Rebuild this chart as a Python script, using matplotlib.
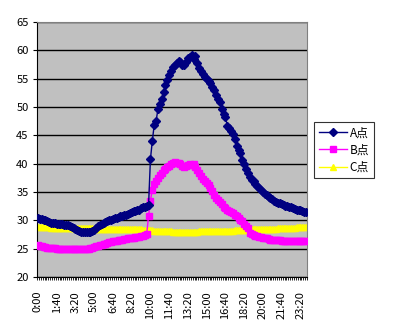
import matplotlib
matplotlib.use('Agg')
import matplotlib.pyplot as plt
import numpy as np

plt.rcParams['font.family'] = ['Noto Sans CJK JP', 'DejaVu Sans']

# 10-minute intervals, 0:00 - 23:50
times = ['%d:%02d' % (m // 60, m % 60) for m in range(0, 1440, 10)]

series_a = [
    30.4, 30.3, 30.2, 30.1, 30.0, 29.8, 29.7, 29.6, 29.5, 29.5,
    29.4, 29.4, 29.3, 29.3, 29.2, 29.2, 29.1, 29.0, 28.9, 28.7,
    28.5, 28.3, 28.1, 28.0, 27.9, 27.9, 27.9, 28.0, 28.0, 28.1,
    28.3, 28.6, 29.0, 29.2, 29.4, 29.5, 29.7, 29.8, 30.0, 30.1,
    30.3, 30.4, 30.5, 30.6, 30.7, 30.8, 30.9, 31.0, 31.2, 31.3,
    31.4, 31.6, 31.7, 31.8, 31.9, 32.1, 32.3, 32.4, 32.6, 32.7,
    40.8, 44.0, 46.8, 47.5, 49.6, 50.5, 51.5, 52.6, 53.8, 54.8,
    55.6, 56.3, 57.0, 57.4, 57.8, 58.1, 58.0, 57.5, 57.4, 58.0,
    58.6, 58.9, 59.2, 58.4, 59.0, 57.8, 56.8, 56.3, 55.9, 55.3,
    55.0, 54.6, 54.3, 53.5, 53.0, 52.2, 51.5, 50.8, 49.6, 48.8,
    48.2, 46.7, 46.3, 45.8, 45.2, 44.3, 43.2, 42.5, 41.8, 40.6,
    39.9, 39.0, 38.3, 37.7, 37.2, 36.9, 36.5, 36.1, 35.7, 35.4,
    35.0, 34.7, 34.4, 34.1, 33.9, 33.7, 33.5, 33.3, 33.1, 33.0,
    32.8, 32.7, 32.6, 32.5, 32.4, 32.3, 32.1, 32.0, 31.9, 31.8,
    31.8, 31.6, 31.5, 31.4,
]

series_b = [
    25.6, 25.5, 25.4, 25.3, 25.3, 25.2, 25.2, 25.2, 25.1, 25.1,
    25.0, 25.0, 25.0, 25.0, 24.9, 24.9, 24.9, 24.9, 24.9, 24.9,
    24.9, 24.9, 24.9, 24.9, 24.9, 24.9, 25.0, 25.0, 25.1, 25.2,
    25.3, 25.4, 25.5, 25.6, 25.7, 25.8, 25.9, 26.0, 26.1, 26.2,
    26.3, 26.3, 26.4, 26.5, 26.5, 26.6, 26.7, 26.7, 26.8, 26.8,
    26.9, 26.9, 27.0, 27.0, 27.1, 27.2, 27.3, 27.4, 27.6, 30.8,
    33.5, 35.4, 36.5, 37.0, 37.5, 38.0, 38.4, 38.8, 39.1, 39.4,
    39.6, 39.9, 40.1, 40.3, 40.2, 40.1, 40.0, 39.6, 39.4, 39.6,
    39.8, 39.9, 39.8, 39.9, 39.5, 38.8, 38.3, 37.8, 37.3, 36.9,
    36.6, 36.2, 35.7, 35.1, 34.5, 34.0, 33.6, 33.2, 32.8, 32.4,
    32.1, 31.9, 31.7, 31.5, 31.3, 31.0, 30.7, 30.4, 30.1, 29.8,
    29.4, 29.0, 28.6, 27.8, 27.6, 27.4, 27.3, 27.2, 27.1, 27.0,
    26.9, 26.8, 26.8, 26.7, 26.6, 26.6, 26.5, 26.5, 26.5, 26.5,
    26.4, 26.4, 26.4, 26.4, 26.4, 26.4, 26.4, 26.4, 26.4, 26.4,
    26.4, 26.4, 26.4, 26.4,
]

series_c = [
    28.8, 28.8, 28.8, 28.8, 28.8, 28.8, 28.8, 28.7, 28.7, 28.7,
    28.7, 28.7, 28.7, 28.7, 28.7, 28.7, 28.7, 28.7, 28.6, 28.6,
    28.6, 28.6, 28.6, 28.6, 28.6, 28.6, 28.6, 28.6, 28.6, 28.6,
    28.5, 28.5, 28.5, 28.5, 28.5, 28.5, 28.5, 28.5, 28.5, 28.5,
    28.5, 28.5, 28.5, 28.5, 28.5, 28.5, 28.5, 28.5, 28.5, 28.4,
    28.4, 28.4, 28.4, 28.4, 28.4, 28.4, 28.3, 28.3, 28.3, 28.3,
    28.3, 28.3, 28.2, 28.2, 28.2, 28.2, 28.2, 28.1, 28.1, 28.1,
    28.1, 28.1, 28.0, 28.0, 28.0, 28.0, 28.0, 28.0, 28.0, 28.0,
    28.0, 28.0, 28.0, 28.0, 28.0, 28.0, 28.1, 28.1, 28.1, 28.1,
    28.1, 28.1, 28.1, 28.1, 28.2, 28.2, 28.2, 28.2, 28.2, 28.2,
    28.2, 28.2, 28.2, 28.2, 28.2, 28.3, 28.3, 28.3, 28.3, 28.3,
    28.3, 28.3, 28.3, 28.4, 28.4, 28.4, 28.4, 28.4, 28.4, 28.4,
    28.4, 28.5, 28.5, 28.5, 28.5, 28.5, 28.5, 28.5, 28.6, 28.6,
    28.6, 28.6, 28.6, 28.7, 28.7, 28.7, 28.7, 28.7, 28.8, 28.8,
    28.8, 28.8, 28.8, 28.8,
]

labels = ['A点', 'B点', 'C点']
y_ticks = [20, 25, 30, 35, 40, 45, 50, 55, 60, 65]

fig = plt.figure(figsize=(3.93, 3.32), dpi=100)
ax = fig.add_axes([37 / 393, 1 - 277 / 332, 270 / 393, 255 / 332])
ax.set_facecolor('#C0C0C0')

x = np.arange(len(times))
ax.plot(x, series_a, color='#000080', lw=1, marker='D', ms=4, label=labels[0], zorder=4)
ax.plot(x, series_b, color='#FF00FF', lw=1, marker='s', ms=4.5, label=labels[1], zorder=3)
ax.plot(x, series_c, color='#FFFF00', lw=1, marker='^', ms=5, label=labels[2], zorder=2)

ax.set_xlim(-0.5, len(times) - 0.5)
ax.set_ylim(20, 65)
ax.set_yticks(y_ticks)
ax.yaxis.grid(True, color='black', lw=1)
ax.set_axisbelow(True)

major = list(range(0, len(times), 10))
ax.set_xticks(major)
ax.set_xticklabels([times[i] for i in major], rotation=90, fontsize=8)
ax.set_xticks(np.arange(-0.5, len(times), 1), minor=True)
ax.tick_params(axis='x', which='major', length=0, pad=10)
ax.tick_params(axis='x', which='minor', length=2.5, width=0.6, direction='out')
ax.tick_params(axis='y', length=3, width=0.8, labelsize=8, pad=3)

for side in ['top', 'right']:
    ax.spines[side].set_color('#808080')
for side in ['left', 'bottom']:
    ax.spines[side].set_color('black')

leg = fig.legend(loc='center left', bbox_to_anchor=(0.80, 0.548), fontsize=8.5,
                 frameon=True, fancybox=False, edgecolor='black', handlelength=2.4,
                 borderpad=0.4, labelspacing=0.35, handletextpad=0.2, borderaxespad=0)
leg.get_frame().set_linewidth(0.8)

fig.savefig('out.png', dpi=100)
